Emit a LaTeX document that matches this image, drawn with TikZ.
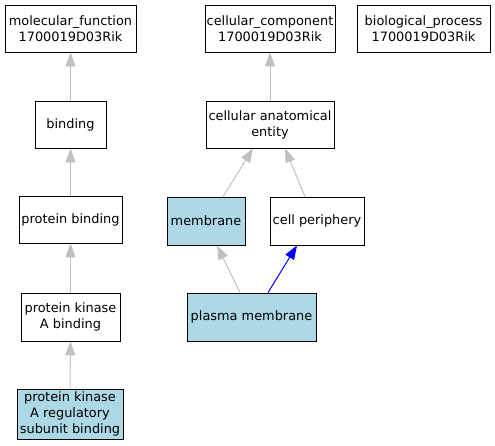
\documentclass[tikz,border=0pt]{standalone}
\usepackage{fontspec}
\setmainfont{DejaVu Sans}
\usepackage[dvipsnames]{xcolor}
\usetikzlibrary{arrows.meta}
\definecolor{termblue}{HTML}{ADD8E6}
\definecolor{edgegray}{HTML}{C0C0C0}

\begin{document}
\begin{tikzpicture}[x=1pt,y=-1pt,
    term/.style={draw,line width=0.8pt,align=center,inner sep=0pt,
      font=\fontsize{12.9}{16}\selectfont},
    hit/.style={term,fill=termblue},
    isa/.style={edgegray,line width=1pt,-{Triangle[length=14pt,width=10pt]}},
    partof/.style={blue,line width=1pt,-{Triangle[length=14pt,width=10pt]}}]
    \useasboundingbox (0,0) rectangle (495,445);
    % top level
    \node[term,minimum width=131pt,minimum height=47pt] (mf) at (70.5,28.5) {molecular\_function\\1700019D03Rik};
    \node[term,minimum width=130pt,minimum height=47pt] (cc) at (270,28.5) {cellular\_component\\1700019D03Rik};
    \node[term,minimum width=133pt,minimum height=47pt] (bp) at (423.5,28.5) {biological\_process\\1700019D03Rik};
    % molecular function branch
    \node[term,minimum width=71pt,minimum height=47pt] (bind) at (70.5,124.5) {binding};
    \node[term,minimum width=103pt,minimum height=47pt] (pbind) at (70.5,219.5) {protein binding};
    \node[term,minimum width=99pt,minimum height=48pt] (pkab) at (70.5,317) {protein kinase\\A binding};
    \node[hit,minimum width=106pt,minimum height=50pt] (pkar) at (70,414) {protein kinase\\A regulatory\\subunit binding};
    % cellular component branch
    \node[term,minimum width=128pt,minimum height=47pt] (cae) at (270,124.5) {cellular anatomical\\entity};
    \node[hit,minimum width=78pt,minimum height=48pt] (mem) at (206,221) {membrane};
    \node[term,minimum width=94pt,minimum height=48pt] (cper) at (317,221) {cell periphery};
    \node[hit,minimum width=129pt,minimum height=48pt] (pm) at (251.5,317) {plasma membrane};
    % edges
    \draw[isa] (bind) -- (mf);
    \draw[isa] (pbind) -- (bind);
    \draw[isa] (pkab) -- (pbind);
    \draw[isa] (pkar) -- (pkab);
    \draw[isa] (cae) -- (cc);
    \draw[isa] ([xshift=17pt]mem.north) -- ([xshift=-17pt]cae.south);
    \draw[isa] ([xshift=-12pt]cper.north) -- ([xshift=15pt]cae.south);
    \draw[isa] ([xshift=-11.5pt]pm.north) -- ([xshift=11pt]mem.south);
    \draw[partof] ([xshift=16.5pt]pm.north) -- ([xshift=-20pt]cper.south);
\end{tikzpicture}
\end{document}
